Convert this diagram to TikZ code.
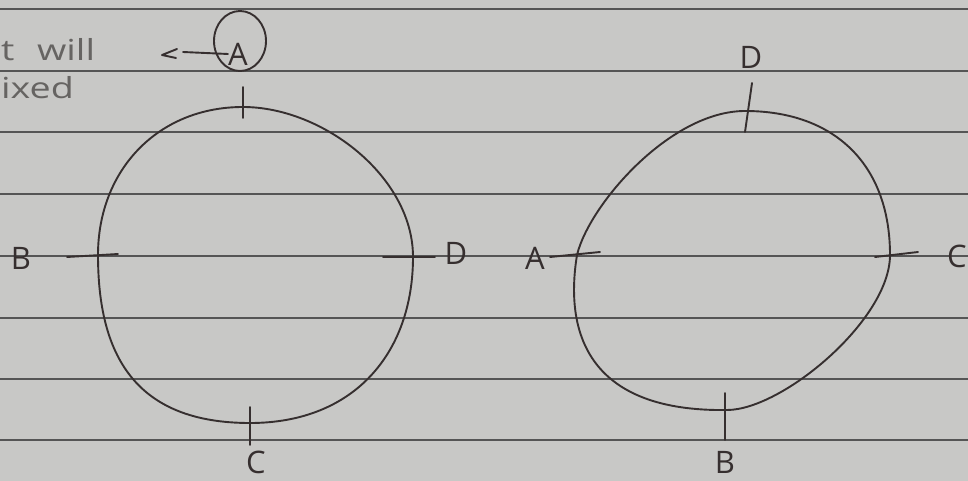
\documentclass[tikz,border=0pt]{standalone}
\usepackage{graphicx}
\usepackage{fontspec}
\setsansfont{Open Sans}
\definecolor{paper}{HTML}{C8C8C6}
\definecolor{ruling}{HTML}{555555}
\definecolor{ink}{HTML}{362F2F}
\definecolor{pencil}{HTML}{666462}

\begin{document}
\begin{tikzpicture}[
    x=1pt, y=-1pt,
    ruled/.style={draw=ruling, line width=1.6pt},
    pen/.style={draw=ink, line width=1.9pt, line cap=round, line join=round},
    letter/.style={font=\sffamily\fontsize{31}{33}\selectfont, text=ink, inner sep=0pt},
    note/.style={font=\sffamily\fontsize{29}{31}\selectfont, text=pencil, inner sep=0pt, anchor=base west},
]

% ════════════════════════════════════════
% Paper and ruled lines
% ════════════════════════════════════════
\useasboundingbox (0,0) rectangle (968,481);
\fill[paper] (0,0) rectangle (968,481);

\foreach \y in {9,71,132,194,256,318,379,440} {
    \draw[ruled] (0,\y) -- (968,\y);
}

% ════════════════════════════════════════
% Note at the top left
% ════════════════════════════════════════
\node[note] (note1) at (1,61) {\scalebox{1.3}[1]{t\hspace{0.6em}will}};
\node[note] (note2) at (1,99) {\scalebox{1.3}[1]{ixed}};

% ════════════════════════════════════════
% Left circle
% ════════════════════════════════════════
\draw[pen] (243,107) .. controls (323,107) and (413,177) .. (413,257)
    .. controls (413,352) and (355,423) .. (250,423)
    .. controls (135,423) and (98,355) .. (98,255)
    .. controls (98,170) and (158,107) .. (243,107) -- cycle;

% tick marks
\draw[pen] (243,87) -- (243,118);
\draw[pen] (67,257) -- (118,254);
\draw[pen] (383,257) -- (435,257);
\draw[pen] (250,407) -- (250,445);

% labels
\node[letter] (labA) at (238,54) {A};
\node[letter] (labB) at (21,258) {B};
\node[letter] (labD) at (456,253) {D};
\node[letter] (labC) at (256,462) {C};

% circled A with the little arrow
\draw[pen] (240,41) ellipse [x radius=26, y radius=30];
\coordinate (arrowend) at (183,52);
\draw[pen] (labA.west) -- (arrowend);
\draw[pen] (arrowend) ++(-6,-3) -- ++(-15,6) -- ++(14,3);

% ════════════════════════════════════════
% Right circle
% ════════════════════════════════════════
\draw[pen] (745,111) .. controls (835,111) and (890,165) .. (890,255)
    .. controls (890,320) and (782,410) .. (727,410)
    .. controls (590,412) and (564,335) .. (577,255)
    .. controls (589,205) and (670,111) .. (745,111) -- cycle;

% tick marks
\draw[pen] (752,83) -- (745,132);
\draw[pen] (550,257) -- (600,252);
\draw[pen] (875,257) -- (918,252);
\draw[pen] (725,393) -- (725,440);

% labels
\node[letter] (rlabD) at (751,57) {D};
\node[letter] (rlabA) at (535,258) {A};
\node[letter] (rlabC) at (957,256) {C};
\node[letter] (rlabB) at (725,462) {B};

\end{tikzpicture}
\end{document}
